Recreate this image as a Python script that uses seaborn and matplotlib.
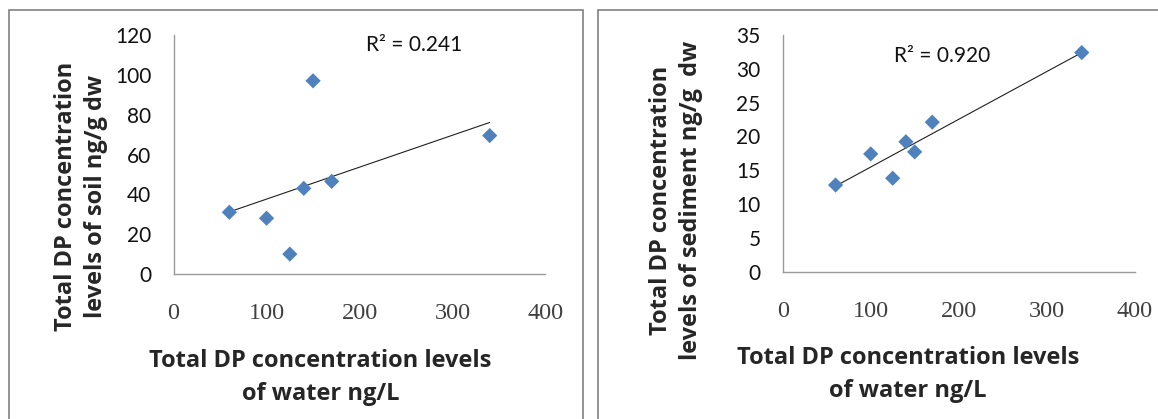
import numpy as np
import pandas as pd
import matplotlib
matplotlib.use("Agg")
import matplotlib.pyplot as plt
from matplotlib.patches import Rectangle
import seaborn as sns

# water concentrations (x) shared by both panels
water = [60, 100, 125, 140, 150, 170, 340]
soil = [31, 28, 10, 43, 97, 46.5, 69.5]
sediment = [12.8, 17.4, 13.8, 19.2, 17.7, 22.1, 32.4]

soil_r2 = "R\u00b2 = 0.241"
sed_r2 = "R\u00b2 = 0.920"
xlabel = "Total DP concentration levels\nof water ng/L"
soil_ylabel = "Total DP concentration\nlevels of soil ng/g dw"
sed_ylabel = "Total DP concentration\nlevels of sediment ng/g  dw"

sns.set_style("white")
plt.rcParams['font.family'] = ['Lato', 'DejaVu Sans']

W, H = 1158, 419
fig = plt.figure(figsize=(W / 100, H / 100), dpi=100)

LAB = dict(fontsize=17, fontweight='bold', family='Open Sans')


def px_box(x0, x1, y_top, y_bot):
    return [x0 / W, 1 - y_bot / H, (x1 - x0) / W, (y_bot - y_top) / H]


def panel(ax, y, ymax, ystep, r2, r2_xy):
    df = pd.DataFrame({'water': water, 'y': y})
    sns.regplot(data=df, x='water', y='y', ax=ax, ci=None, marker='D',
                scatter_kws={'s': 60, 'color': '#4F81BD', 'edgecolor': 'none',
                             'alpha': 1, 'zorder': 3},
                line_kws={'color': '#202020', 'linewidth': 0.8})
    ax.set_xlim(0, 400)
    ax.set_ylim(0, ymax)
    ax.set_xticks(range(0, 401, 100))
    ax.set_yticks(np.arange(0, ymax + 1, ystep))
    for s in ['top', 'right']:
        ax.spines[s].set_visible(False)
    for s in ['left', 'bottom']:
        ax.spines[s].set_color('#9a9a9a')
        ax.spines[s].set_linewidth(1.0)
    ax.tick_params(axis='x', length=0, pad=21, labelsize=17.5, labelcolor='#404040')
    ax.tick_params(axis='y', length=0, pad=16, labelsize=15, labelcolor='#111111')
    for lab in ax.get_xticklabels():
        lab.set_family('Liberation Serif')
    ax.set_xlabel('')
    ax.set_ylabel('')
    fig.text(r2_xy[0] / W, 1 - r2_xy[1] / H, r2, ha='center', va='center',
             fontsize=15, color='#111111')
    return ax


axL = fig.add_axes(px_box(173.6, 545.5, 35, 274))
panel(axL, soil, 120, 20, soil_r2, (414, 45))
fig.text(81 / W, 1 - 196 / H, soil_ylabel, rotation=90, ha='center', va='center',
         linespacing=1.3, **LAB)
fig.text(320.6 / W, 1 - 377 / H, xlabel, ha='center', va='center',
         linespacing=1.5, **LAB)

axR = fig.add_axes(px_box(782.8, 1134.5, 35, 271.5))
panel(axR, sediment, 35, 5, sed_r2, (942, 56))
fig.text(676 / W, 1 - 200 / H, sed_ylabel, rotation=90, ha='center', va='center',
         linespacing=1.3, **LAB)
fig.text(908 / W, 1 - 374 / H, xlabel, ha='center', va='center',
         linespacing=1.5, **LAB)

# panel frames
fig.add_artist(Rectangle((9 / W, -0.1), (583 - 9) / W, 1.1 - 10 / H,
                         transform=fig.transFigure, fill=False,
                         edgecolor='#808080', linewidth=1.2))
fig.add_artist(Rectangle((597.7 / W, -0.1), 0.5, 1.1 - 10 / H,
                         transform=fig.transFigure, fill=False,
                         edgecolor='#808080', linewidth=1.2))

fig.savefig('out.png', dpi=100)
